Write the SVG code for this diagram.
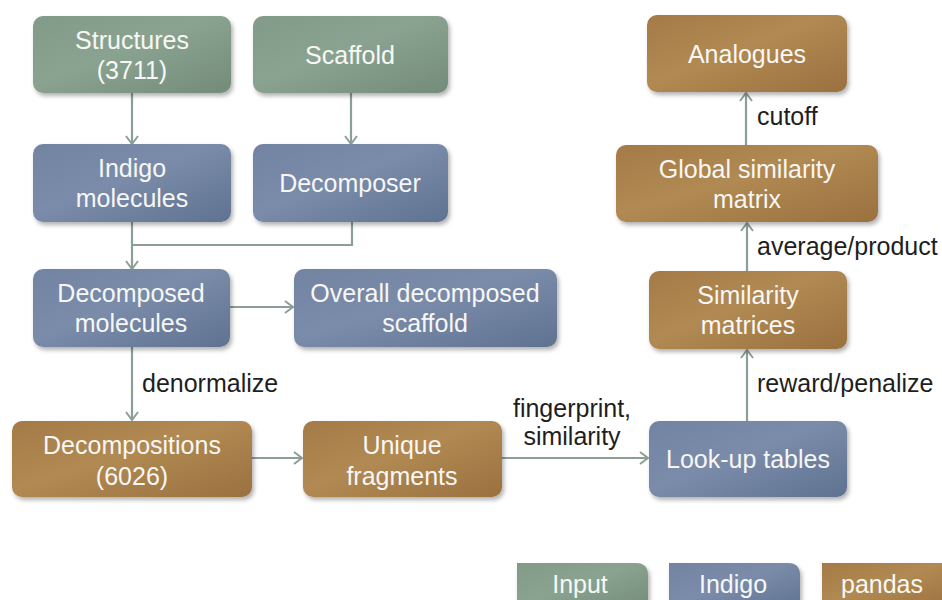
<svg xmlns="http://www.w3.org/2000/svg" width="942" height="600" viewBox="0 0 942 600">
<defs>
<linearGradient id="gGreen" x1="0" y1="0" x2="1" y2="1">
<stop offset="0" stop-color="#819b88"/><stop offset="0.45" stop-color="#8aa391"/><stop offset="1" stop-color="#738c79"/>
</linearGradient>
<linearGradient id="gBlue" x1="0" y1="0" x2="1" y2="1">
<stop offset="0" stop-color="#7284a2"/><stop offset="0.45" stop-color="#7a8caa"/><stop offset="1" stop-color="#5f7291"/>
</linearGradient>
<linearGradient id="gBrown" x1="0" y1="0" x2="1" y2="1">
<stop offset="0" stop-color="#a47b47"/><stop offset="0.45" stop-color="#b18952"/><stop offset="1" stop-color="#9a713f"/>
</linearGradient>
<filter id="sh" x="-10%" y="-10%" width="125%" height="135%">
<feDropShadow dx="2" dy="3" stdDeviation="2" flood-color="#000" flood-opacity="0.3"/>
</filter>
<marker id="arr" viewBox="0 0 10 14" refX="9" refY="7" markerWidth="10" markerHeight="14" markerUnits="userSpaceOnUse" orient="auto">
<path d="M1,1 L9,7 L1,13" fill="none" stroke="#8c9f96" stroke-width="2"/>
</marker>
<style>
.box{filter:url(#sh);}
.in{fill:url(#gGreen);}
.ix{fill:url(#gBlue);}
.pd{fill:url(#gBrown);}
.t{font-family:"Liberation Sans",Arial,sans-serif;font-size:25px;fill:#f7f7f5;text-anchor:middle;}
.l{font-family:"Liberation Sans",Arial,sans-serif;font-size:25px;fill:#1e1e1e;}
.c{fill:none;stroke:#8c9f96;stroke-width:2.2;}
</style>
</defs>
<rect width="942" height="600" fill="#ffffff"/>

<g id="connectors">
<line class="c" x1="132" y1="93" x2="132" y2="144" marker-end="url(#arr)"/>
<line class="c" x1="351" y1="93" x2="351" y2="144" marker-end="url(#arr)"/>
<polyline class="c" points="132,222 132,245 352,245 352,222"/>
<line class="c" x1="132" y1="245" x2="132" y2="269" marker-end="url(#arr)"/>
<line class="c" x1="230" y1="307" x2="293" y2="307" marker-end="url(#arr)"/>
<line class="c" x1="132" y1="347" x2="132" y2="420" marker-end="url(#arr)"/>
<line class="c" x1="252" y1="458" x2="302" y2="458" marker-end="url(#arr)"/>
<line class="c" x1="502" y1="458" x2="648" y2="458" marker-end="url(#arr)"/>
<line class="c" x1="747" y1="421" x2="747" y2="350" marker-end="url(#arr)"/>
<line class="c" x1="747" y1="271" x2="747" y2="223" marker-end="url(#arr)"/>
<line class="c" x1="746" y1="145" x2="746" y2="93" marker-end="url(#arr)"/>
<text class="l" x="142" y="392">denormalize</text>
<text class="l" x="572" y="417" text-anchor="middle">fingerprint,</text>
<text class="l" x="572" y="445" text-anchor="middle">similarity</text>
<text class="l" x="757" y="392">reward/penalize</text>
<text class="l" x="757" y="255">average/product</text>
<text class="l" x="757" y="125">cutoff</text>
</g>

<g id="structures">
<rect class="box in" x="33" y="16" width="198" height="77" rx="10"/>
<text class="t" x="132" y="49">Structures</text>
<text class="t" x="132" y="79">(3711)</text>
</g>
<g id="scaffold">
<rect class="box in" x="253" y="16" width="195" height="77" rx="10"/>
<text class="t" x="350" y="64">Scaffold</text>
</g>
<g id="indigo-molecules">
<rect class="box ix" x="33" y="144" width="198" height="78" rx="10"/>
<text class="t" x="132" y="177">Indigo</text>
<text class="t" x="132" y="207">molecules</text>
</g>
<g id="decomposer">
<rect class="box ix" x="253" y="144" width="195" height="78" rx="10"/>
<text class="t" x="350" y="192">Decomposer</text>
</g>
<g id="decomposed-molecules">
<rect class="box ix" x="33" y="269" width="197" height="78" rx="10"/>
<text class="t" x="131" y="302">Decomposed</text>
<text class="t" x="131" y="332">molecules</text>
</g>
<g id="overall-decomposed-scaffold">
<rect class="box ix" x="294" y="269" width="263" height="78" rx="10"/>
<text class="t" x="425" y="302">Overall decomposed</text>
<text class="t" x="425" y="332">scaffold</text>
</g>
<g id="decompositions">
<rect class="box pd" x="12" y="421" width="240" height="76" rx="10"/>
<text class="t" x="132" y="454">Decompositions</text>
<text class="t" x="132" y="485">(6026)</text>
</g>
<g id="unique-fragments">
<rect class="box pd" x="303" y="421" width="199" height="76" rx="10"/>
<text class="t" x="402" y="454">Unique</text>
<text class="t" x="402" y="485">fragments</text>
</g>
<g id="look-up-tables">
<rect class="box ix" x="649" y="421" width="198" height="76" rx="10"/>
<text class="t" x="748" y="468">Look-up tables</text>
</g>
<g id="similarity-matrices">
<rect class="box pd" x="649" y="271" width="198" height="78" rx="10"/>
<text class="t" x="748" y="304">Similarity</text>
<text class="t" x="748" y="334">matrices</text>
</g>
<g id="global-similarity-matrix">
<rect class="box pd" x="616" y="145" width="262" height="77" rx="10"/>
<text class="t" x="747" y="178">Global similarity</text>
<text class="t" x="747" y="208">matrix</text>
</g>
<g id="analogues">
<rect class="box pd" x="647" y="15" width="200" height="77" rx="10"/>
<text class="t" x="747" y="63">Analogues</text>
</g>

<g id="legend-input">
<path class="box in" d="M517,563 H636 Q648,563 648,575 V610 H517 Z"/>
<text class="t" x="580" y="593">Input</text>
</g>
<g id="legend-indigo">
<path class="box ix" d="M669,563 H788 Q800,563 800,575 V610 H669 Z"/>
<text class="t" x="733" y="593">Indigo</text>
</g>
<g id="legend-pandas">
<path class="box pd" d="M822,563 H941 Q953,563 953,575 V610 H822 Z"/>
<text class="t" x="882" y="593">pandas</text>
</g>
</svg>
